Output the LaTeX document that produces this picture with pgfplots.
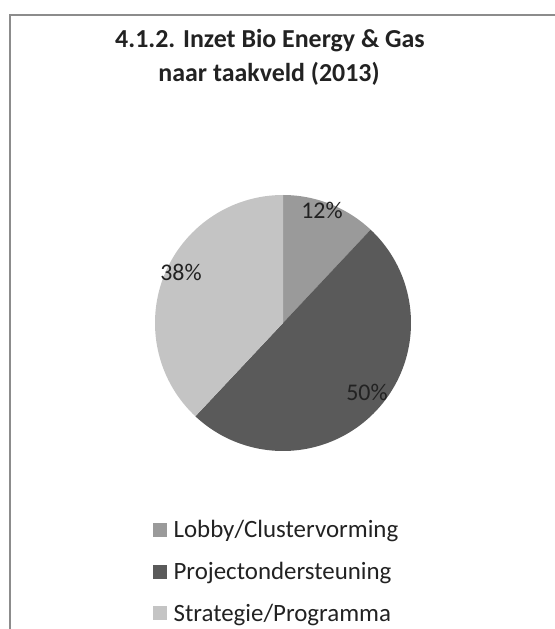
\documentclass[border=0pt]{standalone}
\usepackage{pgfplots}
\pgfplotsset{compat=1.18}
\usepackage{pgfplotstable}
\usepackage{fontspec}
\setmainfont{Carlito}
\definecolor{cLobby}{HTML}{9A9A9A}
\definecolor{cProj}{HTML}{5A5A5A}
\definecolor{cStrat}{HTML}{C4C4C4}
\definecolor{cFrame}{HTML}{8C8C8C}
\definecolor{cText}{HTML}{222222}
\pgfplotstableread{
label value
Lobby 12
Project 50
Strategie 38
}\piedata
\pgfplotstablegetelem{0}{value}\of\piedata \let\vA\pgfplotsretval
\pgfplotstablegetelem{1}{value}\of\piedata \let\vB\pgfplotsretval
\pgfplotstablegetelem{2}{value}\of\piedata \let\vC\pgfplotsretval
\pgfmathsetmacro\aA{90}
\pgfmathsetmacro\aB{\aA-3.6*\vA}
\pgfmathsetmacro\aC{\aB-3.6*\vB}
\pgfmathsetmacro\aD{\aC-3.6*\vC}
\begin{document}
\begin{tikzpicture}
\begin{axis}[
  x=1bp, y=1bp,
  xmin=0, xmax=555, ymin=0, ymax=629,
  hide axis, clip=false,
  scale only axis,
  legend style={at={(axis cs:153,110)}, anchor=north west, draw=none, fill=none,
    font=\fontsize{25}{29}\selectfont\color{cText}, row sep=21bp,
    inner sep=0pt, nodes={inner sep=1bp},
    /tikz/every odd column/.append style={column sep=6bp}},
  legend cell align=left,
  legend image code/.code={\fill[#1] (0bp,-6.5bp) rectangle (13bp,6.5bp);},
]
% frame
\draw[cFrame, line width=1.5bp] (axis cs:10,0) -- (axis cs:10,614) -- (axis cs:555,614);
% slices
\fill[cLobby] (axis cs:283,306) -- ++(\aA:128bp) arc[start angle=\aA, end angle=\aB, radius=128bp] -- cycle;
\fill[cProj]  (axis cs:283,306) -- ++(\aB:128bp) arc[start angle=\aB, end angle=\aC, radius=128bp] -- cycle;
\fill[cStrat] (axis cs:283,306) -- ++(\aC:128bp) arc[start angle=\aC, end angle=\aD, radius=128bp] -- cycle;
% labels
\node[font=\fontsize{24}{28}\selectfont, text=cText] at (axis cs:322,419) {\vA\%};
\node[font=\fontsize{24}{28}\selectfont, text=cText] at (axis cs:181,357) {\vC\%};
\node[font=\fontsize{24}{28}\selectfont, text=cText] at (axis cs:367,237) {\vB\%};
% title
\node[font=\fontsize{26}{30}\selectfont\bfseries, text=cText, anchor=base] at (axis cs:270,581) {4.1.2. Inzet Bio Energy \& Gas};
\node[font=\fontsize{26}{30}\selectfont\bfseries, text=cText, anchor=base] at (axis cs:269,547) {naar taakveld (2013)};
\addlegendimage{cLobby}
\addlegendentry{Lobby/Clustervorming}
\addlegendimage{cProj}
\addlegendentry{Projectondersteuning}
\addlegendimage{cStrat}
\addlegendentry{Strategie/Programma}
\end{axis}
\pgfresetboundingbox
\path (0,0) rectangle (555bp,629bp);
\end{tikzpicture}
\end{document}
